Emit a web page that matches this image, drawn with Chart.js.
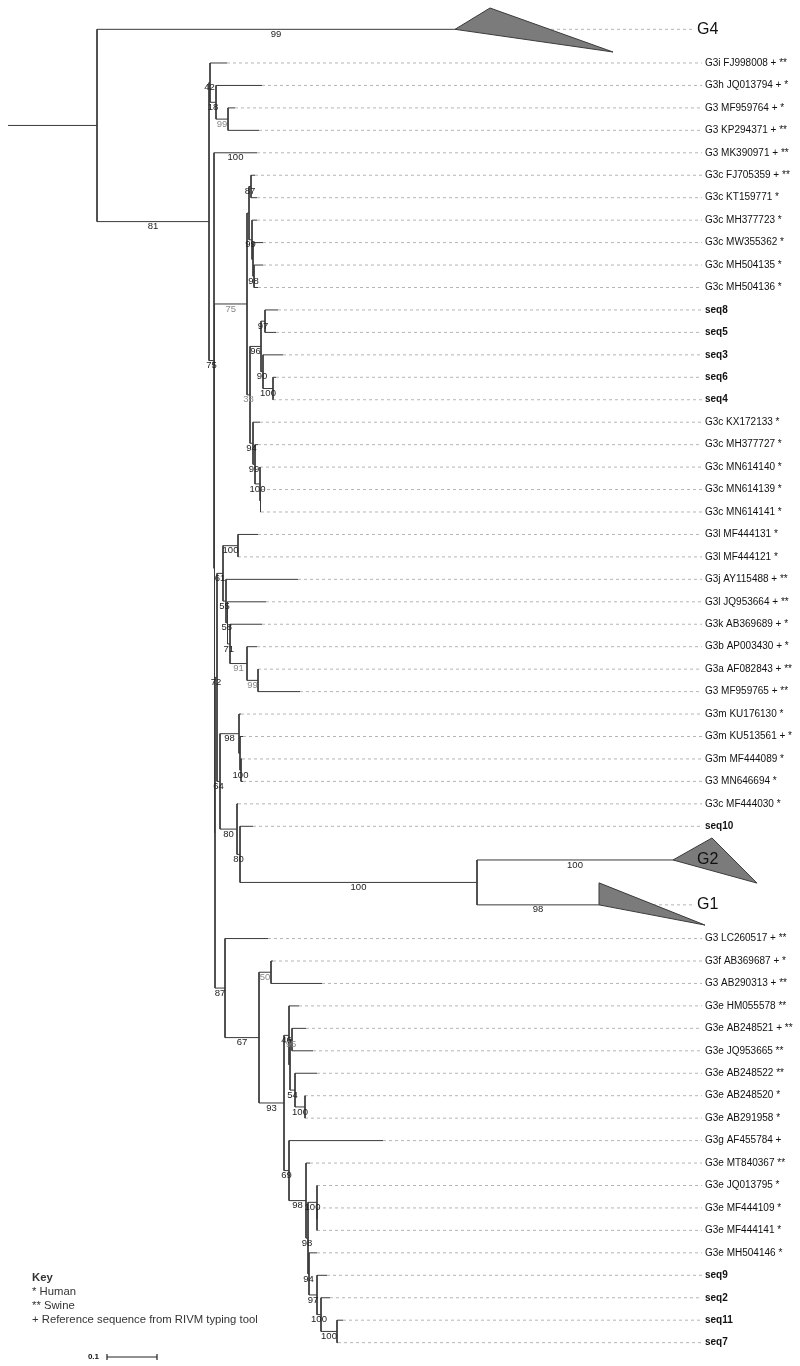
<!DOCTYPE html>
<html>
<head>
<meta charset="utf-8">
<script src="https://cdn.jsdelivr.net/npm/chart.js@4.4.1/dist/chart.umd.min.js"></script>
<style>
  html, body { margin: 0; padding: 0; background: #fff; }
  canvas { display: block; }
</style>
</head>
<body>
<canvas id="tree" width="800" height="1366"></canvas>
<script>
// tips, top to bottom (t0 .. t56)
const tipNames = [
  "G4",
  "G3i FJ998008 + **", "G3h JQ013794 + *", "G3 MF959764 + *", "G3 KP294371 + **", "G3 MK390971 + **",
  "G3c FJ705359 + **", "G3c KT159771 *", "G3c MH377723 *", "G3c MW355362 *", "G3c MH504135 *",
  "G3c MH504136 *", "seq8", "seq5", "seq3", "seq6", "seq4",
  "G3c KX172133 *", "G3c MH377727 *", "G3c MN614140 *", "G3c MN614139 *", "G3c MN614141 *",
  "G3l MF444131 *", "G3l MF444121 *", "G3j AY115488 + **", "G3l JQ953664 + **", "G3k AB369689 + *",
  "G3b AP003430 + *", "G3a AF082843 + **", "G3 MF959765 + **", "G3m KU176130 *", "G3m KU513561 + *",
  "G3m MF444089 *", "G3 MN646694 *", "G3c MF444030 *", "seq10",
  "G2", "G1",
  "G3 LC260517 + **", "G3f AB369687 + *", "G3 AB290313 + **", "G3e HM055578 **", "G3e AB248521 + **",
  "G3e JQ953665 **", "G3e AB248522 **", "G3e AB248520 *", "G3e AB291958 *", "G3g AF455784 +",
  "G3e MT840367 **", "G3e JQ013795 *", "G3e MF444109 *", "G3e MF444141 *", "G3e MH504146 *",
  "seq9", "seq2", "seq11", "seq7"
];
const tipRows = [
  -1.5,
  0, 1, 2, 3, 4,
  5, 6, 7, 8, 9,
  10, 11, 12, 13, 14, 15,
  16, 17, 18, 19, 20,
  21, 22, 23, 24, 25,
  26, 27, 28, 29, 30,
  31, 32, 33, 34,
  35.5, 37.5,
  39, 40, 41, 42, 43,
  44, 45, 46, 47, 48,
  49, 50, 51, 52, 53,
  54, 55, 56, 57
];
// distance from the root stem (substitutions per site)
const tipDist = [
  0.894,
  0.438, 0.508, 0.454, 0.502, 0.498,
  0.494, 0.498, 0.498, 0.510, 0.510,
  0.500, 0.540, 0.536, 0.550, 0.536, 0.530,
  0.504, 0.500, 0.504, 0.506, 0.506,
  0.500, 0.460, 0.580, 0.516, 0.508,
  0.498, 0.500, 0.584, 0.466, 0.470,
  0.468, 0.470, 0.460, 0.490,
  1.330, 1.182,
  0.520, 0.530, 0.628, 0.582, 0.596,
  0.610, 0.618, 0.594, 0.594, 0.750,
  0.604, 0.618, 0.618, 0.618, 0.618,
  0.638, 0.644, 0.670, 0.660
];

// internal nodes n0 .. n55 (n0 = root)
const nodeKids = [
  "t0 n1",   "n2 n5",   "t1 n3",   "t2 n4",   "t3 t4",   "t5 n6",   "n7 n22",  "n8 n13",
  "n9 n10",  "t6 t7",   "t8 n11",  "t9 n12",  "t10 t11", "n14 n18", "n15 n16", "t12 t13",
  "t14 n17", "t15 t16", "t17 n19", "t18 n20", "t19 n21", "t20 t21", "n23 n38", "n24 n31",
  "n25 n26", "t22 t23", "t24 n27", "t25 n28", "t26 n29", "t27 n30", "t28 t29", "n32 n35",
  "t30 n33", "t31 n34", "t32 t33", "t34 n36", "t35 n37", "t36 t37", "t38 n39", "n40 n41",
  "t39 t40", "n42 n47", "t41 n43", "n44 n45", "t42 t43", "t44 n46", "t45 t46", "t47 n48",
  "t48 n49", "n50 n52", "t49 n51", "t50 t51", "t52 n53", "t53 n54", "t54 n55", "t55 t56"
];
const nodeDist = [
  0.178, 0.402, 0.404, 0.416, 0.440, 0.412, 0.413, 0.478,
  0.482, 0.486, 0.488, 0.490, 0.492, 0.484, 0.506, 0.514,
  0.510, 0.530, 0.490, 0.494, 0.504, 0.505, 0.414, 0.418,
  0.430, 0.460, 0.436, 0.439, 0.444, 0.478, 0.500, 0.424,
  0.462, 0.464, 0.466, 0.458, 0.464, 0.938, 0.434, 0.502,
  0.526, 0.552, 0.562, 0.564, 0.568, 0.574, 0.594, 0.562,
  0.596, 0.600, 0.618, 0.618, 0.602, 0.618, 0.626, 0.658
];
const nodeSupport = [
  null, 81,   42,   18,   99,   75,   null, 75,
  null, 87,   99,   null, 98,   38,   96,   97,
  90,   100,  94,   99,   100,  null, null, 72,
  61,   100,  55,   58,   71,   91,   99,   64,
  98,   null, 100,  80,   80,   100,  87,   67,
  50,   93,   46,   null, 95,   54,   100,  69,
  98,   98,   100,  null, 94,   97,   100,  100
];
const tipSupport = { t0: 99, t5: 100, t36: 100, t37: 98 };

// collapsed clades drawn as triangles
const cladeTips = ["t0", "t36", "t37"];
const triTopDist = [0.964, 1.408, 1.182];
const triTopRow = [-2.45, 34.52, 36.52];
const triBotDist = [1.210, 1.498, 1.394];
const triBotRow = [-0.49, 36.53, 38.4];

const scaleBarLength = 0.1;
const keyLines = ["Key", "* Human", "** Swine", "+ Reference sequence from RIVM typing tool"];

// ---- layout ----
const fadedSupport = ["n4", "n7", "n13", "n29", "n30", "n40", "n44"];
const tipLabelAt = 1.394, cladeLabelAt = 1.378;
const barStart = 0.198, barRow = 57.64;
const FONT = '"Liberation Sans", Arial, sans-serif';

// node positions
const pos = {};
tipNames.forEach((n, i) => { pos["t" + i] = { x: tipDist[i], y: tipRows[i] }; });
const parentOf = {};
function place(i) {
  const id = "n" + i;
  if (pos[id]) return pos[id];
  const kids = nodeKids[i].split(" ");
  const ys = kids.map(k => {
    parentOf[k] = id;
    return k[0] === "n" ? place(+k.slice(1)).y : pos[k].y;
  });
  pos[id] = { x: nodeDist[i], y: (ys[0] + ys[ys.length - 1]) / 2 };
  return pos[id];
}
nodeKids.forEach((k, i) => place(i));

const gap = { x: null, y: null };
const branchPts = [];
nodeKids.forEach((kids, i) => {
  const p = pos["n" + i];
  const ks = kids.split(" ");
  branchPts.push({ x: p.x, y: pos[ks[0]].y }, { x: p.x, y: pos[ks[ks.length - 1]].y }, gap);
  ks.forEach(k => branchPts.push({ x: p.x, y: pos[k].y }, { x: pos[k].x, y: pos[k].y }, gap));
});
branchPts.push({ x: 0, y: pos.n0.y }, { x: pos.n0.x, y: pos.n0.y }, gap);

const leaderPts = [];
tipNames.forEach((n, i) => {
  const end = cladeTips.includes("t" + i) ? cladeLabelAt - 0.006 : tipLabelAt - 0.006;
  leaderPts.push({ x: tipDist[i], y: tipRows[i] }, { x: end, y: tipRows[i] }, gap);
});

const barPts = [
  { x: barStart, y: barRow }, { x: barStart + scaleBarLength, y: barRow }, gap,
  { x: barStart, y: barRow - 0.13 }, { x: barStart, y: barRow + 0.13 }, gap,
  { x: barStart + scaleBarLength, y: barRow - 0.13 }, { x: barStart + scaleBarLength, y: barRow + 0.13 }
];

const triangleSets = cladeTips.map((id, j) => {
  const i = +id.slice(1);
  return {
    data: [
      { x: tipDist[i], y: tipRows[i] },
      { x: triTopDist[j], y: triTopRow[j] },
      { x: triBotDist[j], y: triBotRow[j] },
      { x: tipDist[i], y: tipRows[i] }
    ],
    showLine: true, fill: "shape", backgroundColor: "#7b7b7b",
    borderColor: "#3a3a3a", borderWidth: 1, pointRadius: 0, order: 1
  };
});

const treeText = {
  id: "treeText",
  afterDatasetsDraw(chart) {
    const { ctx } = chart;
    const xs = chart.scales.x, ys = chart.scales.y;
    ctx.save();
    ctx.textBaseline = "middle";
    ctx.textAlign = "left";
    tipNames.forEach((name, i) => {
      const clade = cladeTips.includes("t" + i);
      ctx.font = clade ? "16px " + FONT : (name.startsWith("seq") ? "bold 10px " : "10px ") + FONT;
      ctx.fillStyle = "#111";
      ctx.fillText(name, xs.getPixelForValue(clade ? cladeLabelAt : tipLabelAt), ys.getPixelForValue(tipRows[i]));
    });

    ctx.font = "9.5px " + FONT;
    ctx.textAlign = "center";
    const labelled = nodeSupport.map((s, i) => ["n" + i, s]).concat(Object.entries(tipSupport));
    labelled.forEach(([id, s]) => {
      if (s == null || !parentOf[id]) return;
      const p = pos[parentOf[id]], c = pos[id];
      ctx.fillStyle = fadedSupport.includes(id) ? "#8a8a8a" : "#222";
      ctx.fillText(String(s), xs.getPixelForValue((p.x + c.x) / 2), ys.getPixelForValue(c.y) + 5);
    });

    // key
    ctx.textAlign = "left";
    ctx.fillStyle = "#333";
    keyLines.forEach((t, k) => {
      ctx.font = (k === 0 ? "bold 11.3px " : "11.3px ") + FONT;
      ctx.fillText(t, 32, 1278 + k * 14);
    });

    // scale bar label
    ctx.font = "bold 8px " + FONT;
    ctx.textAlign = "right";
    ctx.fillStyle = "#111";
    ctx.fillText(String(scaleBarLength), xs.getPixelForValue(barStart) - 8, ys.getPixelForValue(barRow));
    ctx.restore();
  }
};

new Chart(document.getElementById("tree"), {
  type: "scatter",
  data: {
    datasets: [
      { data: leaderPts, showLine: true, spanGaps: false, borderColor: "#b5b5b5", borderWidth: 1,
        borderDash: [3, 3], pointRadius: 0, order: 3 },
      { data: branchPts, showLine: true, spanGaps: false, borderColor: "#3a3a3a", borderWidth: 1,
        pointRadius: 0, order: 2 },
      { data: barPts, showLine: true, spanGaps: false, borderColor: "#222", borderWidth: 1.2,
        pointRadius: 0, order: 2 },
      ...triangleSets
    ]
  },
  options: {
    responsive: false,
    devicePixelRatio: 1,
    animation: false,
    layout: { padding: 0 },
    plugins: { legend: { display: false }, tooltip: { enabled: false } },
    scales: {
      x: { type: "linear", display: false, min: -0.016, max: 1.584 },
      y: { type: "linear", display: false, reverse: true, min: -2.806, max: 58.04 }
    }
  },
  plugins: [treeText]
});
</script>
</body>
</html>
